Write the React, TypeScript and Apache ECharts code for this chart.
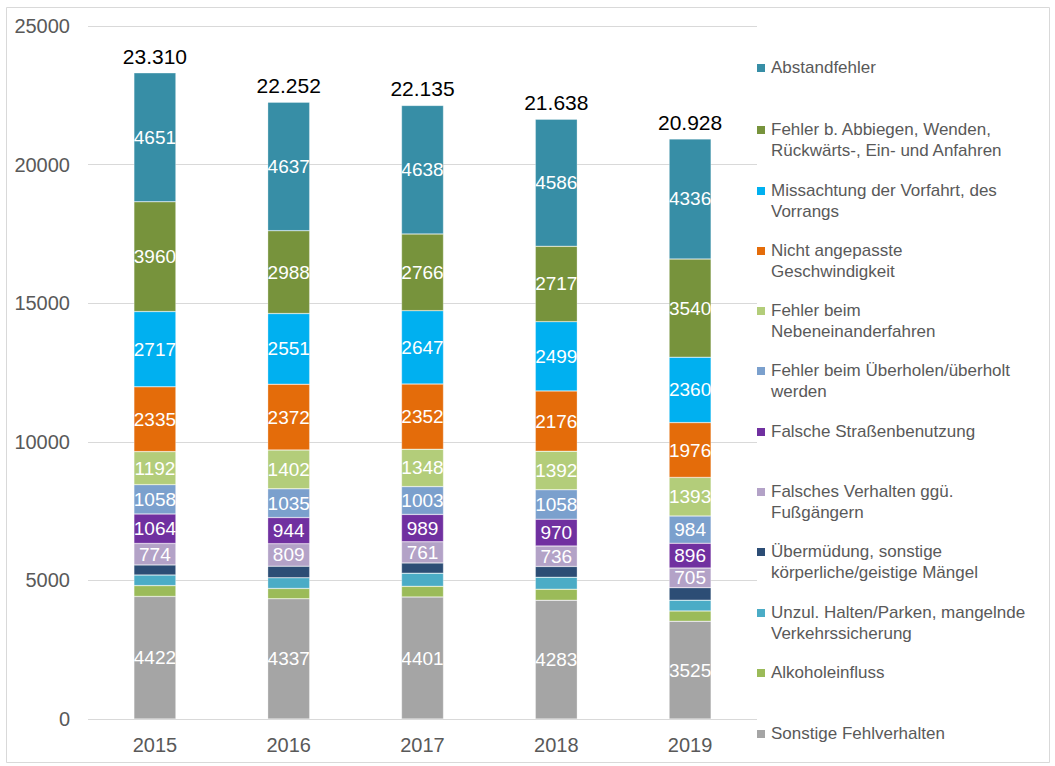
import React, { useEffect, useRef } from "react";
import * as echarts from "echarts";

const years = ["2015", "2016", "2017", "2018", "2019"];
const totals = [23310, 22252, 22135, 21638, 20928];

const sonstige = [4422, 4337, 4401, 4283, 3525];
const alkohol = [390, 372, 385, 400, 373];
const unzul = [380, 385, 475, 430, 390];
const uebermuedung = [367, 420, 370, 391, 450];
const fussgaenger = [774, 809, 761, 736, 705];
const strassen = [1064, 944, 989, 970, 896];
const ueberholen = [1058, 1035, 1003, 1058, 984];
const nebeneinander = [1192, 1402, 1348, 1392, 1393];
const geschwindigkeit = [2335, 2372, 2352, 2176, 1976];
const vorfahrt = [2717, 2551, 2647, 2499, 2360];
const abbiegen = [3960, 2988, 2766, 2717, 3540];
const abstand = [4651, 4637, 4638, 4586, 4336];

const seriesDefs = [
  { name: "Sonstige Fehlverhalten", data: sonstige, color: "#A5A5A5", label: true },
  { name: "Alkoholeinfluss", data: alkohol, color: "#9BBB59", label: false },
  { name: "Unzul. Halten/Parken, mangelnde\nVerkehrssicherung", data: unzul, color: "#4BACC6", label: false },
  { name: "Übermüdung, sonstige\nkörperliche/geistige Mängel", data: uebermuedung, color: "#2C4D75", label: false },
  { name: "Falsches Verhalten ggü.\nFußgängern", data: fussgaenger, color: "#B3A2C7", label: true },
  { name: "Falsche Straßenbenutzung", data: strassen, color: "#7030A0", label: true },
  { name: "Fehler beim Überholen/überholt\nwerden", data: ueberholen, color: "#7BA0CD", label: true },
  { name: "Fehler beim\nNebeneinanderfahren", data: nebeneinander, color: "#B3CD7A", label: true },
  { name: "Nicht angepasste\nGeschwindigkeit", data: geschwindigkeit, color: "#E46C0A", label: true },
  { name: "Missachtung der Vorfahrt, des\nVorrangs", data: vorfahrt, color: "#00B0F0", label: true },
  { name: "Fehler b. Abbiegen, Wenden,\nRückwärts-, Ein- und Anfahren", data: abbiegen, color: "#77933C", label: true },
  { name: "Abstandfehler", data: abstand, color: "#378EA6", label: true },
];

const legendY = [68, 130, 191, 251, 311, 371, 432, 492, 552, 613, 673, 734];

export default function App() {
  const ref = useRef<HTMLDivElement>(null);
  useEffect(() => {
    if (!ref.current) return;
    const chart = echarts.init(ref.current, null, { renderer: "svg" });
    const font = "Liberation Sans, Arial, sans-serif";
    const series: any[] = seriesDefs.map((s) => ({
      type: "bar",
      name: s.name,
      stack: "total",
      data: s.data,
      barWidth: 42,
      itemStyle: { color: s.color, borderColor: "rgba(255,255,255,0.6)", borderWidth: 0.5 },
      label: {
        show: s.label,
        position: "inside",
        color: "#fff",
        fontSize: 19,
        fontFamily: font,
      },
    }));
    series.push({
      type: "bar",
      name: "Gesamt",
      stack: "total",
      data: totals.map(() => 0),
      barWidth: 42,
      itemStyle: { color: "transparent" },
      label: {
        show: true,
        position: "top",
        distance: 6,
        color: "#000",
        fontSize: 21,
        fontFamily: font,
        formatter: (p: any) => totals[p.dataIndex].toLocaleString("de-DE"),
      },
    });
    const reversed = [...seriesDefs].reverse();
    const graphic: any[] = [
      {
        type: "rect",
        shape: { x: 6.5, y: 7.5, width: 1043, height: 755 },
        style: { fill: "none", stroke: "#D9D9D9", lineWidth: 1 },
        silent: true,
      },
    ];
    reversed.forEach((s, i) => {
      graphic.push({
        type: "rect",
        shape: { x: 757, y: legendY[i] - 4, width: 8, height: 8 },
        style: { fill: s.color },
      });
      graphic.push({
        type: "text",
        x: 771,
        y: legendY[i] - 11,
        style: {
          text: s.name,
          fill: "#595959",
          fontSize: 17,
          fontFamily: font,
          lineHeight: 21,
          verticalAlign: "top",
        },
      });
    });
    chart.setOption({
      animation: false,
      grid: { left: 88, right: 298, top: 26, bottom: 47, containLabel: false },
      xAxis: {
        type: "category",
        data: years,
        axisLine: { show: false },
        axisTick: { show: false },
        axisLabel: { color: "#595959", fontSize: 20, fontFamily: font, margin: 16 },
      },
      yAxis: {
        type: "value",
        min: 0,
        max: 25000,
        interval: 5000,
        axisLine: { show: false },
        axisTick: { show: false },
        splitLine: { lineStyle: { color: "#D9D9D9", width: 1 } },
        axisLabel: {
          color: "#595959",
          fontSize: 20,
          fontFamily: font,
          margin: 18,
          formatter: (v: number) => String(v),
        },
      },
      series,
      graphic,
    });
    return () => chart.dispose();
  }, []);
  return (
    <div
      ref={ref}
      style={{ position: "fixed", left: 0, top: 0, width: 1055, height: 766, background: "#fff" }}
    />
  );
}
